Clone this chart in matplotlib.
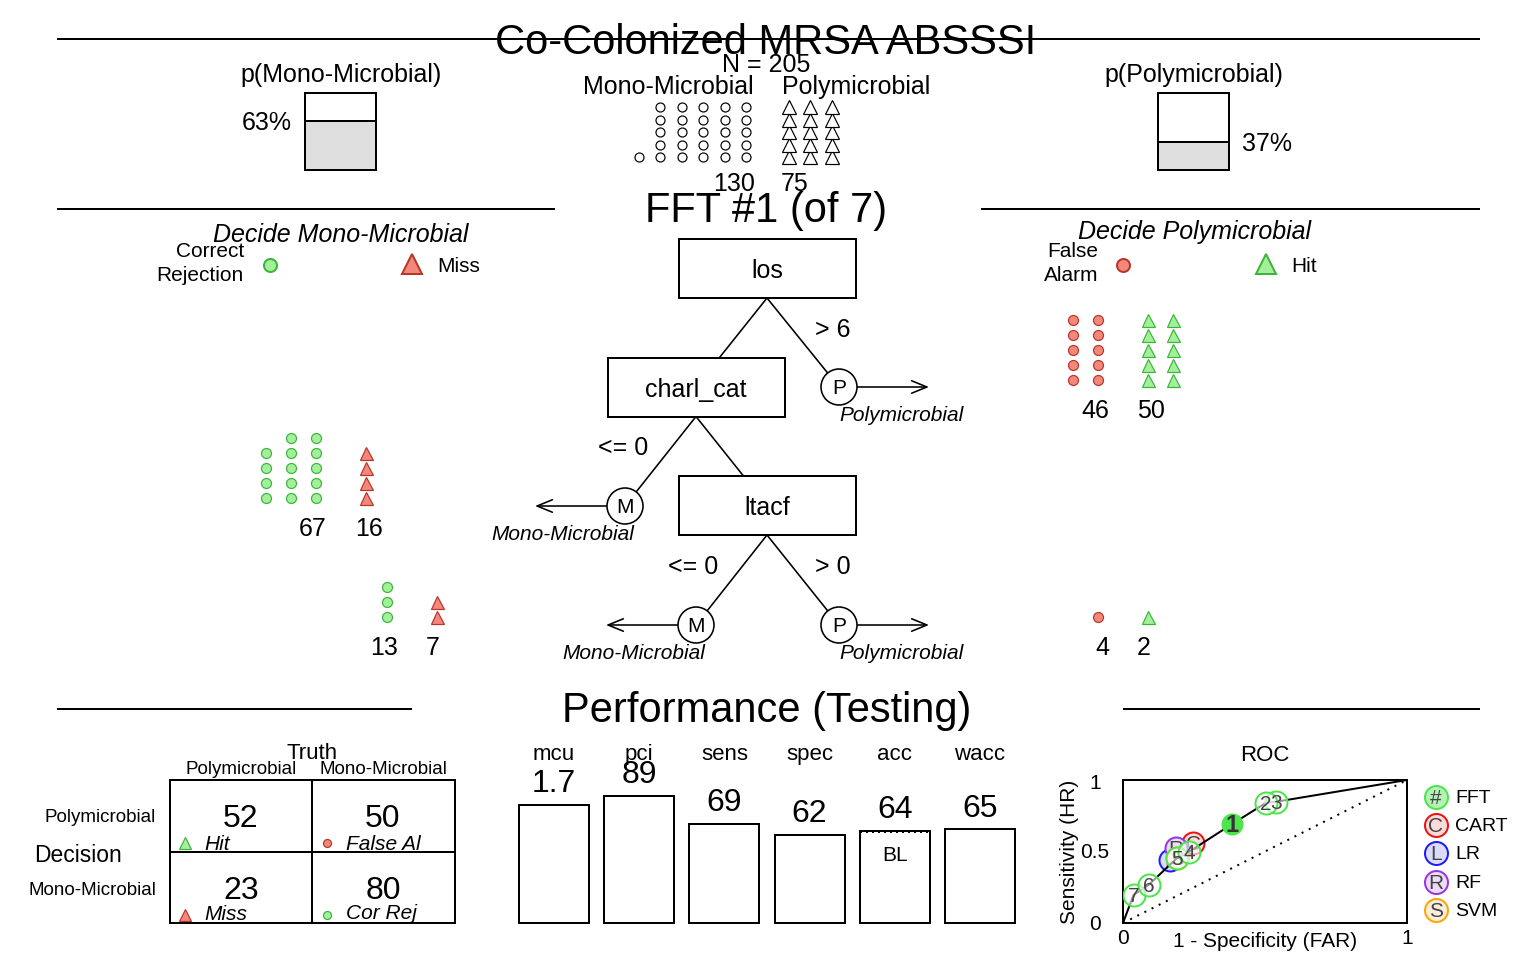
"""FFTrees-style summary plot for the co-colonized MRSA ABSSSI tree.

Output:
    out.png
"""

import math

import matplotlib

matplotlib.use("Agg")
import matplotlib.pyplot as plt
from matplotlib.patches import Circle, FancyArrowPatch, Rectangle

plt.rcParams["font.family"] = ["Liberation Sans", "DejaVu Sans"]

# ---- data -----------------------------------------------------------------
TITLE = "Co-Colonized MRSA ABSSSI"
NOISE_NAME = "Mono-Microbial"
SIGNAL_NAME = "Polymicrobial"
N_NOISE = 130
N_SIGNAL = 75
ICON_UNIT = 5  # cases per icon

TREE_NAME = "FFT #1 (of 7)"
CUES = ["los", "charl_cat", "ltacf"]

# exits, top to bottom: decision, threshold text, noise cases, signal cases
EXIT_DECISION = ["P", "M", "M", "P"]
EXIT_THRESH = ["> 6", "<= 0", "<= 0", "> 0"]
EXIT_NOISE = [46, 67, 13, 4]   # false alarms / correct rejections
EXIT_SIGNAL = [50, 16, 7, 2]   # hits / misses

HIT, FA, MISS, CR = 52, 50, 23, 80

METRIC_NAMES = ["mcu", "pci", "sens", "spec", "acc", "wacc"]
METRIC_LABELS = ["1.7", "89", "69", "62", "64", "65"]
METRIC_BARS = [82.5, 88.8, 69.3, 61.5, 64.4, 65.4]
BASELINE_ACC = 63.4

FFT_IDS = ["1", "2", "3", "4", "5", "6", "7"]
FFT_FAR = [0.385, 0.504, 0.539, 0.233, 0.189, 0.090, 0.037]
FFT_HR = [0.693, 0.841, 0.848, 0.499, 0.452, 0.266, 0.196]

ALG_NAMES = ["CART", "LR", "RF", "SVM"]
ALG_FAR = [0.247, 0.165, 0.185, 0.189]
ALG_HR = [0.557, 0.441, 0.522, 0.452]

# ---- styles ---------------------------------------------------------------
PX = 0.72  # points per pixel at dpi 100
GREEN_FILL = "#a4f09a"
GREEN_EDGE = "#3cb43c"
RED_FILL = "#f2877a"
RED_EDGE = "#b8352a"
ROC_GREEN = "#4ce64c"
ALG_EDGE = ["#ee1111", "#1a1aff", "#9a32e6", "#ffa500"]
ALG_FILL = ["#fbdada", "#dcdcfa", "#ecdcf7", "#fdeedc"]

fig = plt.figure(figsize=(15.36, 9.6), dpi=100)
fig.patch.set_facecolor("white")
ax = fig.add_axes([0, 0, 1, 1])
ax.set_xlim(0, 1536)
ax.set_ylim(960, 0)
ax.axis("off")


def txt(x, y, s, size, ha="center", style="normal", **kw):
    # matplotlib centres the full text box; nudge down so the caps sit where R puts them
    return ax.text(x, y + 0.1 * size, s, fontsize=size, ha=ha, va="center", style=style, **kw)


def hline(y, x0, x1):
    ax.plot([x0, x1], [y, y], color="black", lw=2 * PX, solid_capstyle="butt")


def icons(n_icons, x_edge, y_bottom, dx, dy, side, marker, size, fc, ec):
    xs, ys = [], []
    for i in range(n_icons):
        xs.append(x_edge + side * (i // 5) * dx)
        ys.append(y_bottom - (i % 5) * dy)
    ax.plot(xs, ys, ls="none", marker=marker, markersize=size * PX,
            mfc=fc, mec=ec, mew=1.2 * PX)


# ---- top: data overview ---------------------------------------------------
hline(39, 57, 1480)
txt(766, 40, TITLE, 30)
txt(766, 63, f"N = {N_NOISE + N_SIGNAL}", 18)
txt(668, 85, NOISE_NAME, 18)
txt(856, 85, SIGNAL_NAME, 18)
icons(math.ceil(N_NOISE / ICON_UNIT), 746, 157, 21.4, 12.5, -1, "o", 9, "white", "black")
icons(math.ceil(N_SIGNAL / ICON_UNIT), 789, 157, 21.4, 12.5, 1, "^", 14, "white", "black")
txt(755, 182, str(N_NOISE), 18, ha="right")
txt(781, 182, str(N_SIGNAL), 18, ha="left")

p_noise = N_NOISE / (N_NOISE + N_SIGNAL)
for cx, name, p, side in [(341, NOISE_NAME, p_noise, -1), (1194, SIGNAL_NAME, 1 - p_noise, 1)]:
    x0, y0, w, h = cx - 36, 93, 71, 77
    txt(cx, 73, f"p({name})", 18)
    ax.add_patch(Rectangle((x0, y0 + h * (1 - p)), w, h * p, fc="#dedede", ec="none"))
    ax.add_patch(Rectangle((x0, y0), w, h, fc="none", ec="black", lw=2 * PX))
    ax.plot([x0, x0 + w], [y0 + h * (1 - p)] * 2, color="black", lw=2 * PX)
    if side < 0:
        txt(x0 - 13, y0 + h * (1 - p), f"{p * 100:.0f}%", 18, ha="right")
    else:
        txt(x0 + w + 13, y0 + h * (1 - p), f"{p * 100:.0f}%", 18, ha="left")

# ---- middle: tree ---------------------------------------------------------
hline(209, 57, 555)
hline(209, 981, 1480)
txt(766, 208, TREE_NAME, 30)

txt(341, 233, f"Decide {NOISE_NAME}", 18, style="italic")
txt(1194, 230, f"Decide {SIGNAL_NAME}", 18, style="italic")
txt(244, 250, "Correct", 15, ha="right")
txt(244, 274, "Rejection", 15, ha="right")
ax.plot(270, 265, "o", ms=13 * PX, mfc=GREEN_FILL, mec=GREEN_EDGE, mew=2 * PX)
ax.plot(412, 264, "^", ms=20 * PX, mfc=RED_FILL, mec=RED_EDGE, mew=2 * PX)
txt(437, 265, "Miss", 15, ha="left")
txt(1098, 250, "False", 15, ha="right")
txt(1098, 274, "Alarm", 15, ha="right")
ax.plot(1123, 265, "o", ms=13 * PX, mfc=RED_FILL, mec=RED_EDGE, mew=2 * PX)
ax.plot(1266, 264, "^", ms=20 * PX, mfc=GREEN_FILL, mec=GREEN_EDGE, mew=2 * PX)
txt(1291, 265, "Hit", 15, ha="left")

BOX_W, BOX_H, R = 177, 59, 18
node_xy = [(767, 268.5), (696, 387), (767, 505.5)]
exit_xy = [(839, 387), (625, 506), (696, 625), (839, 625)]
exit_node = [0, 1, 2, 2]
thresh_xy = [(833, 328), (623, 446), (693, 565), (833, 565)]

for (cx, cy), cue in zip(node_xy, CUES):
    ax.add_patch(Rectangle((cx - BOX_W / 2, cy - BOX_H / 2), BOX_W, BOX_H,
                           fc="white", ec="black", lw=2 * PX, zorder=3))
    txt(cx, cy + 1, cue, 18, zorder=4)

# parent -> next cue box
for (px_, py_), (cx, cy) in zip(node_xy[:-1], node_xy[1:]):
    top = py_ + BOX_H / 2
    t = (cy - BOX_H / 2 - top) / (cy - top)
    ax.plot([px_, px_ + (cx - px_) * t], [top, cy - BOX_H / 2], color="black", lw=1.6 * PX)

for k, (ex, ey) in enumerate(exit_xy):
    px_, py_ = node_xy[exit_node[k]]
    top = py_ + BOX_H / 2
    d = math.hypot(ex - px_, ey - top)
    ax.plot([px_, ex - (ex - px_) / d * R], [top, ey - (ey - top) / d * R],
            color="black", lw=1.6 * PX)
    ax.add_patch(Circle((ex, ey), R, fc="white", ec="black", lw=1.6 * PX, zorder=3))
    txt(ex, ey, EXIT_DECISION[k], 15, zorder=4)
    side = 1 if EXIT_DECISION[k] == "P" else -1
    ax.add_patch(FancyArrowPatch((ex + side * R, ey), (ex + side * (R + 72), ey),
                                 arrowstyle="->,head_length=1.1,head_width=0.45",
                                 mutation_scale=10, color="black", lw=1.6 * PX,
                                 shrinkA=0, shrinkB=0))
    name = SIGNAL_NAME if side > 0 else NOISE_NAME
    txt(ex + side * 62, ey + 27, name, 15, style="italic")
    txt(*thresh_xy[k], EXIT_THRESH[k], 18)

# icon arrays of cases leaving at each exit
icon_xy = [(1123, 380), (341, 498), (412, 617), (1123, 617)]
for k, (cx, by) in enumerate(icon_xy):
    n_noise = math.ceil(EXIT_NOISE[k] / ICON_UNIT)
    n_signal = math.ceil(EXIT_SIGNAL[k] / ICON_UNIT)
    if EXIT_DECISION[k] == "P":
        nfc, nec, sfc, sec = RED_FILL, RED_EDGE, GREEN_FILL, GREEN_EDGE
    else:
        nfc, nec, sfc, sec = GREEN_FILL, GREEN_EDGE, RED_FILL, RED_EDGE
    icons(n_noise, cx - 25, by, 25, 15, -1, "o", 10, nfc, nec)
    icons(n_signal, cx + 25, by, 25, 15, 1, "^", 13, sfc, sec)
    txt(cx - 14, by + 29, str(EXIT_NOISE[k]), 18, ha="right")
    txt(cx + 14, by + 29, str(EXIT_SIGNAL[k]), 18, ha="left")

# ---- bottom: performance --------------------------------------------------
hline(709, 57, 412)
hline(709, 1123, 1480)
txt(767, 708, "Performance (Testing)", 30)

# confusion table
txt(312, 752, "Truth", 16)
txt(241, 768, SIGNAL_NAME, 13.5)
txt(383, 768, NOISE_NAME, 13.5)
txt(156, 816, SIGNAL_NAME, 13.5, ha="right")
txt(156, 889, NOISE_NAME, 13.5, ha="right")
txt(78, 854, "Decision", 16.5)
cells = [
    (170, 780, HIT, "Hit", "^", GREEN_FILL, GREEN_EDGE, 63),
    (312, 780, FA, "False Al", "o", RED_FILL, RED_EDGE, 63),
    (170, 852, MISS, "Miss", "^", RED_FILL, RED_EDGE, 61),
    (312, 852, CR, "Cor Rej", "o", GREEN_FILL, GREEN_EDGE, 60),
]
for x0, y0, n, lab, mk, fc, ec, ly in cells:
    txt(x0 + 71, y0 + 37, str(n), 23)
    ax.plot(x0 + 15, y0 + 63, mk, ms=(12 if mk == "^" else 8) * PX, mfc=fc, mec=ec, mew=1.2 * PX)
    txt(x0 + 34, y0 + ly, lab, 15, ha="left", style="italic")
ax.add_patch(Rectangle((170, 780), 285, 143, fc="none", ec="black", lw=2 * PX, zorder=5))
ax.plot([312, 312], [780, 923], color="black", lw=2 * PX, zorder=5)
ax.plot([170, 455], [852, 852], color="black", lw=2 * PX, zorder=5)

# metric bars
bx = fig.add_axes([511.4 / 1536, 37 / 960, 511.2 / 1536, 143 / 960])
bx.set_xlim(-0.5, 5.5)
bx.set_ylim(0, 100)
bx.axis("off")
xs = range(len(METRIC_NAMES))
bars = bx.bar(xs, METRIC_BARS, width=0.82, fc="white", ec="black", lw=2 * PX)
for b in bars:
    b.set_clip_on(False)
for i, (name, lab, v) in enumerate(zip(METRIC_NAMES, METRIC_LABELS, METRIC_BARS)):
    bx.text(i, 117.5, name, fontsize=16, ha="center", va="center", clip_on=False)
    bx.text(i, v + 14.4, lab, fontsize=23, ha="center", va="center", clip_on=False)
acc_i = METRIC_NAMES.index("acc")
bx.plot([acc_i - 0.41, acc_i + 0.41], [BASELINE_ACC] * 2, color="black",
        lw=2 * PX, ls=(0, (1, 2)))
bx.text(acc_i, 47.3, "BL", fontsize=15, ha="center", va="center")

# ROC
rx = fig.add_axes([1123 / 1536, 37 / 960, 284 / 1536, 143 / 960])
rx.set_xlim(0, 1)
rx.set_ylim(0, 1)
rx.set_xticks([])
rx.set_yticks([])
for s in rx.spines.values():
    s.set_linewidth(2 * PX)
rx.plot([0, 1], [0, 1], color="black", lw=2 * PX, ls=(0, (1, 3)))
rx.set_title("ROC", fontsize=16, pad=14)
rx.text(0, -0.105, "0", fontsize=15, ha="center", va="center", clip_on=False)
rx.text(1, -0.105, "1", fontsize=15, ha="center", va="center", clip_on=False)
for v, lab in [(-0.01, "0"), (0.49, "0.5"), (0.978, "1")]:
    rx.text(-0.099, v, lab, fontsize=15, ha="center", va="center", clip_on=False)
rx.text(0.5, -0.13, "1 - Specificity (FAR)", fontsize=15, ha="center", va="center", clip_on=False)
rx.text(-0.19, 0.5, "Sensitivity (HR)", fontsize=15, ha="center", va="center",
        rotation=90, clip_on=False)

for far, hr, name, fc, ec in zip(ALG_FAR, ALG_HR, ALG_NAMES, ALG_FILL, ALG_EDGE):
    rx.plot(far, hr, "o", ms=22 * PX, mfc=fc, mec=ec, mew=2 * PX, zorder=2)
    rx.text(far, hr - 0.01, name[0], fontsize=15, ha="center", va="center", color="#444444", zorder=2)

pts = sorted(zip(FFT_FAR, FFT_HR))
rx.plot([0] + [p[0] for p in pts] + [1], [0] + [p[1] for p in pts] + [1],
        color="black", lw=2 * PX, zorder=3)
for far, hr, k in reversed(list(zip(FFT_FAR, FFT_HR, FFT_IDS))):
    if k == "1":
        continue
    rx.plot(far, hr, "o", ms=22 * PX, mfc=(1, 1, 1, 0.6), mec=ROC_GREEN, mew=2 * PX, zorder=4)
    rx.text(far, hr - 0.01, k, fontsize=15, ha="center", va="center", color="#444444", zorder=5)
rx.plot(FFT_FAR[0], FFT_HR[0], "o", ms=20 * PX, mfc=ROC_GREEN, mec=ROC_GREEN, mew=2 * PX, zorder=6)
rx.text(FFT_FAR[0], FFT_HR[0] - 0.01, "1", fontsize=17, weight="bold", ha="center", va="center",
        color="#333333", zorder=7)

leg_names = ["FFT"] + ALG_NAMES
leg_sym = ["#"] + [n[0] for n in ALG_NAMES]
leg_fill = ["#b5f2b5"] + ALG_FILL
leg_edge = [ROC_GREEN] + ALG_EDGE
leg_y = [0.883, 0.685, 0.487, 0.289, 0.091]
for y, name, sym, fc, ec in zip(leg_y, leg_names, leg_sym, leg_fill, leg_edge):
    rx.plot(1.102, y, "o", ms=23 * PX, mfc=fc, mec=ec, mew=2 * PX, clip_on=False)
    rx.text(1.102, y - 0.01, sym, fontsize=15, ha="center", va="center", color="#444444", clip_on=False)
    rx.text(1.169, y - 0.01, name, fontsize=14, ha="left", va="center", clip_on=False)

fig.savefig("out.png", dpi=100, facecolor="white")
